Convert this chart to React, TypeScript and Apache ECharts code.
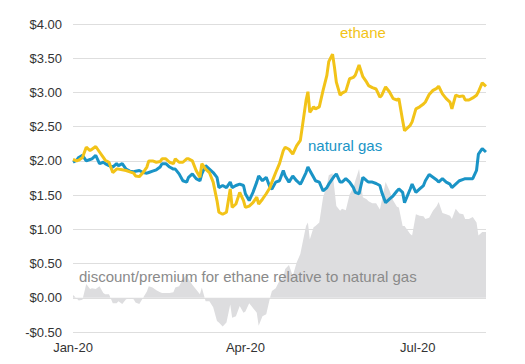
import React, { useEffect, useRef } from "react";
import * as echarts from "echarts";

// day offsets from 1 Jan 2020
const days = [
  0, 2, 3, 5, 7, 9, 10, 12, 14, 16, 17, 19, 21, 23, 24, 26, 28, 30, 32, 33, 35, 37, 39, 40, 42, 44, 46, 47, 49, 51,
  53, 54, 56, 58, 60, 61, 63, 65, 67, 68, 70, 72, 74, 76, 77, 79, 81, 83, 84, 86, 88, 90, 91, 93, 95, 97, 98, 100, 102, 104,
  105, 107, 109, 111, 112, 114, 116, 118, 120, 121, 123, 124, 125, 127, 128, 130, 132, 134, 135, 137, 138, 139, 141, 142, 144, 146, 148, 149, 151, 153,
  155, 156, 158, 160, 162, 163, 165, 167, 169, 171, 172, 174, 175, 178, 179, 181, 183, 185, 186, 188, 190, 192, 193, 195, 197, 199, 200, 202, 204, 206,
  207, 209, 211, 213, 214, 216, 218,
];

const ethane = [
  2.02, 2.0, 2.01, 2.05, 2.2, 2.15, 2.17, 2.21, 2.13, 2.05, 2.01, 1.98, 1.83, 1.88, 1.88, 1.87, 1.86, 1.84, 1.82, 1.78, 1.77, 1.83, 1.91, 2.0, 2.0, 1.98, 1.99, 2.03, 2.03, 1.98,
  1.96, 2.03, 1.98, 1.98, 2.03, 2.03, 2.0, 1.86, 1.76, 1.96, 1.88, 1.83, 1.69, 1.42, 1.25, 1.22, 1.25, 1.59, 1.32, 1.37, 1.54, 1.42, 1.32, 1.34, 1.39, 1.47, 1.37, 1.44, 1.52, 1.61,
  1.69, 1.83, 1.96, 2.15, 2.2, 2.17, 2.1, 2.22, 2.3, 2.49, 2.88, 3.01, 2.71, 2.79, 2.76, 2.79, 3.03, 3.25, 3.45, 3.56, 3.37, 3.15, 2.96, 2.99, 3.02, 3.2, 3.22, 3.25, 3.4, 3.23,
  3.15, 3.1, 3.07, 3.05, 2.93, 2.96, 3.08, 3.01, 2.91, 2.89, 2.91, 2.59, 2.44, 2.52, 2.57, 2.76, 2.79, 2.83, 2.86, 2.97, 3.03, 3.06, 3.09, 2.98, 2.91, 2.86, 2.76, 2.96, 2.94, 2.95,
  2.89, 2.89, 2.92, 2.96, 3.01, 3.14, 3.09,
];

const naturalGas = [
  1.98, 2.01, 2.05, 2.08, 2.0, 2.02, 2.03, 2.08, 1.96, 1.98, 1.96, 1.93, 1.91, 1.96, 1.93, 1.96, 1.88, 1.85, 1.84, 1.85, 1.86, 1.83, 1.82, 1.83, 1.85, 1.87, 1.91, 1.96, 1.96, 1.91,
  1.88, 1.88, 1.81, 1.71, 1.69, 1.76, 1.81, 1.74, 1.71, 1.81, 1.93, 1.88, 1.83, 1.76, 1.61, 1.64, 1.61, 1.69, 1.61, 1.64, 1.66, 1.64, 1.52, 1.42, 1.54, 1.69, 1.78, 1.71, 1.76, 1.61,
  1.59, 1.69, 1.71, 1.86, 1.78, 1.69, 1.78, 1.71, 1.66, 1.71, 1.83, 1.91, 1.86, 1.76, 1.71, 1.69, 1.56, 1.61, 1.66, 1.74, 1.78, 1.81, 1.69, 1.69, 1.74, 1.69, 1.61, 1.54, 1.52, 1.76,
  1.71, 1.69, 1.69, 1.67, 1.64, 1.54, 1.39, 1.44, 1.49, 1.56, 1.59, 1.54, 1.39, 1.59, 1.66, 1.54, 1.59, 1.64, 1.71, 1.8, 1.76, 1.72, 1.69, 1.74, 1.69, 1.66, 1.61, 1.66, 1.71, 1.73,
  1.74, 1.74, 1.74, 1.86, 2.1, 2.18, 2.13,
];

const tickLabels: Record<number, string> = { 0: "Jan-20", 91: "Apr-20", 182: "Jul-20" };

const YELLOW = "#F2C318";
const BLUE = "#1A94C6";
const FONT = "'Liberation Sans', Arial, sans-serif";

export default function App() {
  const ref = useRef<HTMLDivElement>(null);
  useEffect(() => {
    if (!ref.current) return;
    const chart = echarts.init(ref.current, undefined, { renderer: "svg" });
    const spread = days.map((d, i) => [d, +(ethane[i] - naturalGas[i]).toFixed(2)]);
    chart.setOption({
      animation: false,
      grid: { left: 73, right: 39, top: 24, bottom: 32 },
      xAxis: {
        type: "value",
        min: 0,
        max: 218,
        interval: 91,
        axisLine: { show: false },
        axisTick: { show: false },
        splitLine: { show: false },
        axisLabel: {
          margin: 9,
          fontFamily: FONT,
          fontSize: 13,
          color: "#333",
          formatter: (v: number) => tickLabels[v] ?? "",
        },
      },
      yAxis: {
        type: "value",
        min: -0.5,
        max: 4,
        interval: 0.5,
        axisLine: { show: false },
        axisTick: { show: false },
        splitLine: { lineStyle: { color: "#dedede", width: 1 } },
        axisLabel: {
          margin: 11,
          fontFamily: FONT,
          fontSize: 13,
          color: "#333",
          formatter: (v: number) => (v < 0 ? "-$" + Math.abs(v).toFixed(2) : "$" + v.toFixed(2)),
        },
      },
      series: [
        {
          name: "spread",
          type: "line",
          data: spread,
          symbol: "none",
          lineStyle: { width: 0 },
          areaStyle: { color: "#dddddf", opacity: 1, origin: 0 },
          z: 1,
        },
        {
          name: "natural gas",
          type: "line",
          data: days.map((d, i) => [d, naturalGas[i]]),
          symbol: "none",
          lineStyle: { color: BLUE, width: 3 },
          z: 3,
        },
        {
          name: "ethane",
          type: "line",
          data: days.map((d, i) => [d, ethane[i]]),
          symbol: "none",
          lineStyle: { color: YELLOW, width: 3 },
          z: 4,
        },
      ],
      graphic: [
        {
          type: "text",
          left: 340,
          top: 25,
          style: { text: "ethane", fill: YELLOW, font: "15px " + FONT },
          z: 10,
        },
        {
          type: "text",
          left: 308,
          top: 138,
          style: { text: "natural gas", fill: BLUE, font: "15px " + FONT },
          z: 10,
        },
        {
          type: "text",
          left: 79,
          top: 269,
          style: {
            text: "discount/premium for ethane relative to natural gas",
            fill: "#8a8a8a",
            font: "15px " + FONT,
          },
          z: 10,
        },
      ],
    });
    return () => chart.dispose();
  }, []);
  return <div ref={ref} style={{ width: 525, height: 364, margin: -8 }} />;
}
